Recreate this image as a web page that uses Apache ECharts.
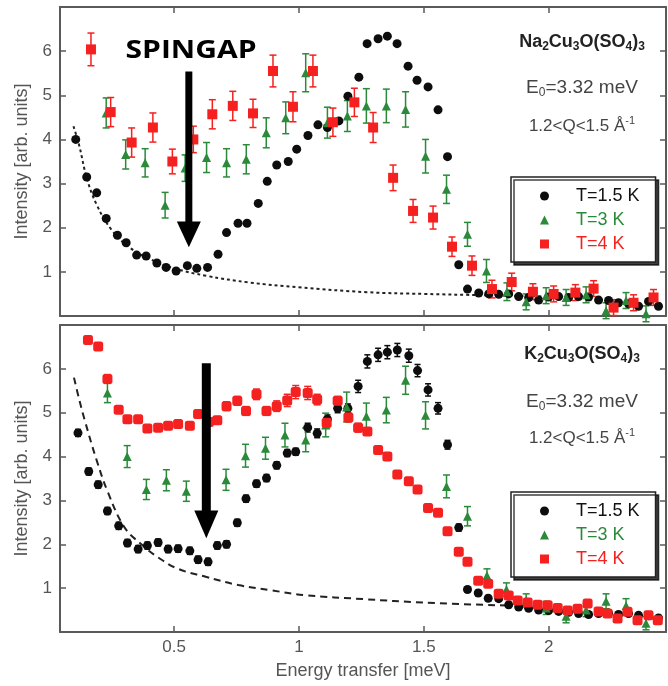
<!DOCTYPE html>
<html><head><meta charset="utf-8">
<script src="https://cdn.jsdelivr.net/npm/echarts@6/dist/echarts.min.js"></script>
<style>html,body{margin:0;padding:0;background:#fff}#c{width:668px;height:686px}</style>
</head><body><div id="c"></div>
<script>
// ---------------- DATA ----------------
const xTicks = [0.5, 1, 1.5, 2];
const yTicks = [1, 2, 3, 4, 5, 6];
const seriesNames = ['T=1.5 K', 'T=3 K', 'T=4 K'];

// Top panel: Na2Cu3O(SO4)3  [energy, intensity]
const topBlack = [[0.106,4.00],[0.150,3.15],[0.190,2.79],[0.228,2.21],[0.273,1.83],[0.308,1.66],[0.350,1.38],[0.388,1.36],[0.431,1.20],[0.468,1.10],[0.508,1.02],[0.553,1.14],[0.591,1.08],[0.634,1.10],[0.676,1.40],[0.710,1.89],[0.756,2.10],[0.792,2.10],[0.837,2.55],[0.873,3.05],[0.911,3.42],[0.957,3.50],[0.991,3.78],[1.036,4.09],[1.076,4.33],[1.114,4.27],[1.160,4.42],[1.196,4.98],[1.240,5.41],[1.273,6.17],[1.317,6.28],[1.354,6.34],[1.393,6.17],[1.437,5.66],[1.473,5.34],[1.517,5.19],[1.557,4.67],[1.595,3.61],[1.640,1.16],[1.675,0.61],[1.720,0.52],[1.76,0.50],[1.80,0.49],[1.84,0.50],[1.88,0.44],[1.92,0.42],[1.96,0.36],[2.00,0.43],[2.04,0.44],[2.08,0.42],[2.12,0.44],[2.16,0.43],[2.20,0.36],[2.24,0.35],[2.28,0.30],[2.32,0.28],[2.36,0.22],[2.40,0.33],[2.44,0.22]];
// [energy, intensity, error]
const topGreen = [[0.228,4.60,0.34],[0.306,3.66,0.33],[0.384,3.47,0.32],[0.464,2.51,0.29],[0.544,3.35,0.30],[0.630,3.59,0.34],[0.710,3.47,0.32],[0.789,3.55,0.33],[0.869,4.15,0.34],[0.947,4.49,0.36],[1.027,5.51,0.43],[1.114,4.38,0.35],[1.194,4.53,0.35],[1.270,4.76,0.39],[1.350,4.76,0.38],[1.427,4.68,0.40],[1.507,3.62,0.38],[1.591,2.87,0.32],[1.675,1.85,0.27],[1.751,1.02,0.26],[1.833,0.55,0.20],[1.910,0.32,0.18],[1.990,0.46,0.18],[2.070,0.42,0.18],[2.150,0.48,0.18],[2.230,0.12,0.18],[2.310,0.35,0.18],[2.390,0.05,0.18]];
const topRed = [[0.167,6.04,0.37],[0.246,4.62,0.33],[0.330,3.93,0.33],[0.415,4.27,0.33],[0.493,3.50,0.28],[0.577,4.00,0.30],[0.653,4.57,0.33],[0.735,4.76,0.33],[0.816,4.59,0.32],[0.896,5.55,0.36],[0.976,4.74,0.34],[1.056,5.55,0.36],[1.136,4.39,0.32],[1.222,4.84,0.32],[1.297,4.27,0.34],[1.377,3.13,0.29],[1.457,2.38,0.26],[1.537,2.23,0.26],[1.613,1.57,0.22],[1.693,1.14,0.22],[1.773,0.61,0.20],[1.852,0.77,0.20],[1.937,0.55,0.18],[2.020,0.50,0.18],[2.107,0.53,0.18],[2.180,0.62,0.18],[2.260,0.19,0.18],[2.340,0.30,0.18],[2.420,0.42,0.18]];
const topFit = [[0.097,4.30],[0.12,3.86],[0.15,3.13],[0.19,2.52],[0.25,1.95],[0.32,1.56],[0.40,1.30],[0.50,1.08],[0.63,0.91],[0.80,0.76],[1.00,0.65],[1.27,0.54],[1.50,0.50],[1.75,0.47],[2.00,0.44]];

// Bottom panel: K2Cu3O(SO4)3  [energy, intensity, error]
const botBlack = [[0.115,4.54,0.08],[0.158,3.66,0.08],[0.196,3.36,0.08],[0.233,2.76,0.08],[0.278,2.42,0.08],[0.313,2.03,0.08],[0.356,1.89,0.08],[0.393,1.97,0.08],[0.436,2.04,0.08],[0.476,1.89,0.08],[0.516,1.90,0.08],[0.563,1.85,0.08],[0.596,1.65,0.08],[0.636,1.60,0.08],[0.673,1.97,0.08],[0.710,2.00,0.08],[0.753,2.49,0.08],[0.788,3.04,0.08],[0.830,3.38,0.08],[0.870,3.51,0.08],[0.911,3.80,0.08],[0.953,4.08,0.08],[0.987,4.11,0.08],[1.035,4.66,0.10],[1.073,4.53,0.10],[1.114,4.85,0.10],[1.155,5.10,0.10],[1.196,5.10,0.10],[1.237,5.60,0.14],[1.274,6.17,0.15],[1.317,6.32,0.15],[1.354,6.38,0.15],[1.394,6.43,0.15],[1.440,6.30,0.15],[1.475,5.96,0.14],[1.517,5.52,0.14],[1.557,5.10,0.13],[1.595,4.27,0.10],[1.640,2.38,0.08],[1.675,0.97,0.06],[1.718,0.89,0.06],[1.758,0.77,0.06],[1.800,0.76,0.06],[1.840,0.62,0.06],[1.88,0.57,0.05],[1.92,0.54,0.05],[1.96,0.50,0.05],[2.00,0.49,0.05],[2.04,0.47,0.05],[2.08,0.45,0.05],[2.12,0.42,0.05],[2.16,0.40,0.05],[2.20,0.42,0.05],[2.24,0.43,0.05],[2.28,0.40,0.05],[2.32,0.42,0.05],[2.36,0.38,0.05],[2.40,0.37,0.05],[2.44,0.32,0.05]];
const botGreen = [[0.233,5.45,0.22],[0.312,4.00,0.25],[0.389,3.25,0.23],[0.469,3.46,0.24],[0.549,3.21,0.23],[0.708,3.47,0.24],[0.786,4.02,0.26],[0.866,4.19,0.25],[0.944,4.49,0.27],[1.027,4.38,0.27],[1.107,4.72,0.27],[1.191,5.13,0.34],[1.270,4.92,0.30],[1.350,5.06,0.29],[1.427,5.74,0.32],[1.507,4.94,0.31],[1.591,3.32,0.26],[1.675,2.64,0.22],[1.753,1.29,0.15],[1.831,0.97,0.15],[1.910,0.72,0.15],[1.990,0.55,0.15],[2.070,0.36,0.15],[2.150,0.50,0.15],[2.230,0.70,0.17],[2.310,0.60,0.16],[2.390,0.20,0.15]];
const botRed = [[0.155,6.66,0.08],[0.196,6.51,0.08],[0.233,5.77,0.10],[0.278,5.07,0.08],[0.313,4.85,0.08],[0.356,4.85,0.08],[0.393,4.64,0.08],[0.436,4.66,0.08],[0.476,4.70,0.08],[0.516,4.74,0.08],[0.563,4.70,0.08],[0.596,4.97,0.08],[0.639,4.79,0.08],[0.673,4.83,0.08],[0.710,5.15,0.10],[0.753,5.27,0.10],[0.788,5.04,0.10],[0.830,5.42,0.12],[0.870,5.04,0.10],[0.911,5.15,0.12],[0.953,5.28,0.14],[0.987,5.47,0.15],[1.035,5.45,0.15],[1.073,5.30,0.12],[1.111,4.77,0.12],[1.155,5.27,0.10],[1.198,4.89,0.10],[1.237,4.66,0.10],[1.274,4.57,0.08],[1.317,4.15,0.08],[1.354,4.00,0.08],[1.394,3.59,0.08],[1.440,3.44,0.08],[1.475,3.25,0.08],[1.517,2.83,0.08],[1.557,2.72,0.08],[1.595,2.30,0.08],[1.640,1.83,0.08],[1.675,1.60,0.08],[1.718,1.17,0.08],[1.758,1.10,0.08],[1.800,0.87,0.08],[1.840,0.83,0.08],[1.876,0.72,0.08],[1.916,0.67,0.08],[1.956,0.62,0.08],[1.996,0.61,0.08],[2.036,0.55,0.08],[2.076,0.49,0.08],[2.116,0.53,0.08],[2.156,0.65,0.08],[2.200,0.47,0.08],[2.236,0.42,0.08],[2.276,0.31,0.08],[2.316,0.46,0.08],[2.356,0.27,0.08],[2.400,0.38,0.08],[2.437,0.27,0.08]];
const botFit = [[0.099,5.80],[0.12,5.30],[0.142,4.83],[0.189,3.93],[0.236,3.17],[0.302,2.38],[0.369,2.00],[0.436,1.70],[0.516,1.44],[0.62,1.27],[0.757,1.07],[0.89,0.95],[1.024,0.84],[1.26,0.75],[1.50,0.67],[1.85,0.60]];

// Spin-gap arrows: [energy, shaft top, head base, tip] (intensity units)
const topArrow = [[0.559, 5.54, 2.14, 1.56]];
const botArrow = [[0.629, 6.13, 2.77, 2.14]];

// ---------------- STYLE ----------------
const FONT = '"Liberation Sans", Arial, sans-serif';
const AX = '#5a5a5a';
const C_BLACK = '#0d0d0d', C_GREEN = '#2a8a3a', C_RED = '#f52020';
const X_MIN = 0.043, X_MAX = 2.47;

function xAx(grid, pos, labels, name) {
  return {
    type: 'value', gridIndex: grid, position: pos, min: X_MIN, max: X_MAX,
    axisLine: {show: true, onZero: false, lineStyle: {color: AX, width: 2}},
    axisTick: {show: true, inside: true, length: 6, customValues: xTicks, lineStyle: {color: AX, width: 1.5}},
    axisLabel: {show: labels, customValues: xTicks, color: '#555', fontSize: 17, fontFamily: FONT, margin: 7},
    splitLine: {show: false},
    name: name || '', nameLocation: 'middle', nameGap: 30,
    nameTextStyle: {color: '#555', fontSize: 18, fontFamily: FONT}
  };
}
function yAx(grid, pos, labels, name) {
  return {
    type: 'value', gridIndex: grid, position: pos, min: 0, max: 7, interval: 1,
    axisLine: {show: true, onZero: false, lineStyle: {color: AX, width: 2}},
    axisTick: {show: true, inside: true, length: 6, customValues: yTicks, lineStyle: {color: AX, width: 1.5}},
    axisLabel: {show: labels, customValues: yTicks, color: '#555', fontSize: 17, fontFamily: FONT, margin: 8},
    splitLine: {show: false},
    name: name || '', nameLocation: 'middle', nameGap: 29,
    nameTextStyle: {color: '#555', fontSize: 18, fontFamily: FONT}
  };
}

function errRender(color, cap) {
  return function (params, api) {
    const x = api.value(0), y = api.value(1), e = api.value(2);
    const lo = api.coord([x, y - e]), hi = api.coord([x, y + e]);
    const st = {stroke: color, lineWidth: 1.5};
    return {type: 'group', children: [
      {type: 'line', shape: {x1: lo[0], y1: lo[1], x2: hi[0], y2: hi[1]}, style: st},
      {type: 'line', shape: {x1: lo[0] - cap, y1: lo[1], x2: lo[0] + cap, y2: lo[1]}, style: st},
      {type: 'line', shape: {x1: hi[0] - cap, y1: hi[1], x2: hi[0] + cap, y2: hi[1]}, style: st}
    ]};
  };
}
function arrowRender(shaftW, headHalf) {
  return function (params, api) {
    const x = api.value(0);
    const top = api.coord([x, api.value(1)]);
    const base = api.coord([x, api.value(2)]);
    const tip = api.coord([x, api.value(3)]);
    return {type: 'group', children: [
      {type: 'rect', shape: {x: top[0] - shaftW / 2, y: top[1], width: shaftW, height: base[1] - top[1] + 1}, style: {fill: '#000'}},
      {type: 'polygon', shape: {points: [[base[0] - headHalf, base[1]], [base[0] + headHalf, base[1]], [tip[0], tip[1]]]}, style: {fill: '#000'}}
    ]};
  };
}

function panelSeries(xi, yi, black, green, red, fit, arrow, dash, redSym, blackErr) {
  const s = [];
  s.push({type: 'line', name: 'fit' + xi, xAxisIndex: xi, yAxisIndex: yi, data: fit, smooth: 0.4, showSymbol: false, silent: true,
    lineStyle: {color: '#222', width: 2, type: dash}, z: 1});
  if (blackErr) s.push({type: 'custom', name: 'eb' + xi, xAxisIndex: xi, yAxisIndex: yi, data: black, renderItem: errRender(C_BLACK, 3), encode: {x: 0, y: 1}, z: 2});
  s.push({type: 'custom', name: 'eg' + xi, xAxisIndex: xi, yAxisIndex: yi, data: green, renderItem: errRender(C_GREEN, 3.5), encode: {x: 0, y: 1}, z: 2});
  s.push({type: 'custom', name: 'er' + xi, xAxisIndex: xi, yAxisIndex: yi, data: red, renderItem: errRender(C_RED, 3.5), encode: {x: 0, y: 1}, z: 2});
  s.push({type: 'scatter', name: seriesNames[0], xAxisIndex: xi, yAxisIndex: yi, data: black, symbol: 'circle', symbolSize: 9, itemStyle: {color: C_BLACK, opacity: 1}, z: 3});
  s.push({type: 'scatter', name: seriesNames[1], xAxisIndex: xi, yAxisIndex: yi, data: green, symbol: 'triangle', symbolSize: 9, itemStyle: {color: C_GREEN, opacity: 1}, z: 4});
  s.push({type: 'scatter', name: seriesNames[2], xAxisIndex: xi, yAxisIndex: yi, data: red, symbol: redSym, symbolSize: 10, itemStyle: {color: C_RED, opacity: 1}, z: 5});
  s.push({type: 'custom', name: 'arrow' + xi, xAxisIndex: xi, yAxisIndex: yi, data: arrow, renderItem: arrowRender(xi === 0 ? 7 : 9, 12), encode: {x: 0, y: 1}, z: 10, silent: true});
  return s;
}

function legendAt(top) {
  return {
    orient: 'vertical', left: 511, top: top, itemWidth: 9, itemHeight: 9, itemGap: 6,
    padding: [10, 16, 9, 29], backgroundColor: '#fff', borderColor: '#222', borderWidth: 1.5,
    shadowColor: 'rgba(0,0,0,0.75)', shadowBlur: 0, shadowOffsetX: 3, shadowOffsetY: 3,
    selectedMode: false,
    textStyle: {fontFamily: FONT, fontSize: 18, rich: {g: {width: 22}}},
    formatter: function (n) { return '{g|}' + n; },
    data: [
      {name: seriesNames[0], icon: 'circle', textStyle: {color: '#111'}},
      {name: seriesNames[1], icon: 'triangle', textStyle: {color: C_GREEN}},
      {name: seriesNames[2], icon: 'rect', textStyle: {color: C_RED}}
    ]
  };
}

function infoTexts(cx, yTitle, yE, yQ, alkali) {
  const base = {fill: '#222', align: 'center', verticalAlign: 'middle'};
  return [
    {type: 'text', x: cx, y: yTitle, z: 20, style: Object.assign({}, base, {
      text: '{b|' + alkali + '}{s|2}{b|Cu}{s|3}{b|O(SO}{s|4}{b|)}{s|3}',
      rich: {b: {font: 'bold 18px ' + FONT, lineHeight: 22, fill: '#222'},
             s: {font: 'bold 12px ' + FONT, lineHeight: 11, verticalAlign: 'bottom', fill: '#222'}}})},
    {type: 'text', x: cx, y: yE, z: 20, style: Object.assign({}, base, {
      text: '{n|E}{s|0}{n|=3.32 meV}',
      rich: {n: {font: '19px ' + FONT, lineHeight: 22, fill: '#444'},
             s: {font: '12px ' + FONT, lineHeight: 11, verticalAlign: 'bottom', fill: '#444'}}})},
    {type: 'text', x: cx, y: yQ, z: 20, style: Object.assign({}, base, {
      text: '{n|1.2<Q<1.5 Å}{p|-1}',
      rich: {n: {font: '17px ' + FONT, lineHeight: 22, fill: '#444'},
             p: {font: '11px ' + FONT, lineHeight: 11, verticalAlign: 'top', fill: '#444'}}})}
  ];
}

const chart = echarts.init(document.getElementById('c'), null, {renderer: 'canvas'});
chart.setOption({
  backgroundColor: '#fff',
  animation: false,
  grid: [
    {left: 60, right: 2, top: 7, height: 309},
    {left: 60, right: 2, top: 325, height: 307}
  ],
  xAxis: [
    xAx(0, 'bottom', false), xAx(0, 'top', false),
    xAx(1, 'bottom', true, 'Energy transfer [meV]'), xAx(1, 'top', false)
  ],
  yAxis: [
    yAx(0, 'left', true, 'Intensity [arb. units]'), yAx(0, 'right', false),
    yAx(1, 'left', true, 'Intensity [arb. units]'), yAx(1, 'right', false)
  ],
  legend: [legendAt(177), legendAt(492)],
  series: [].concat(
    panelSeries(0, 0, topBlack, topGreen, topRed, topFit, topArrow, [3, 3], 'rect', false),
    panelSeries(2, 2, botBlack, botGreen, botRed, botFit, botArrow, [7, 5], 'roundRect', true)
  ),
  graphic: [].concat(
    [{type: 'text', x: 191, y: 51, scaleX: 1.2, z: 30, style: {text: 'SPINGAP', font: 'bold 25px "Open Sans", sans-serif', fill: '#000', align: 'center', verticalAlign: 'middle'}}],
    infoTexts(582, 42, 88, 126, 'Na'),
    infoTexts(582, 354, 402, 438, 'K')
  )
});
</script></body></html>
